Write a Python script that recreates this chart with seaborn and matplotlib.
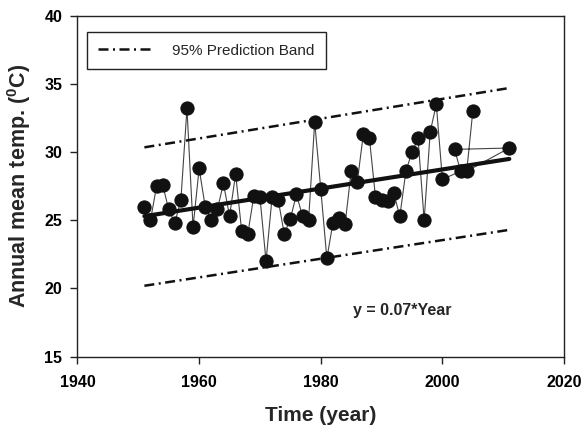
import seaborn as sns
import matplotlib.pyplot as plt

# annual mean temperature, in the order the points were joined
years = [1951, 1952, 1953, 1954, 1955, 1956, 1957, 1958, 1959, 1960,
         1961, 1962, 1963, 1964, 1965, 1966, 1967, 1968, 1969, 1970,
         1971, 1972, 1973, 1974, 1975, 1976, 1977, 1978, 1979, 1980,
         1981, 1982, 1983, 1984, 1985, 1986, 1987, 1988, 1989, 1990,
         1991, 1992, 1993, 1994, 1995, 1996, 1997, 1998, 1999, 2000,
         2003, 2002, 2011, 2004, 2005]
temps = [26.0, 25.0, 27.5, 27.6, 25.8, 24.8, 26.5, 33.2, 24.5, 28.8,
         26.0, 25.0, 25.8, 27.7, 25.3, 28.4, 24.2, 24.0, 26.8, 26.7,
         22.0, 26.7, 26.5, 24.0, 25.1, 26.9, 25.3, 25.0, 32.2, 27.3,
         22.2, 24.8, 25.2, 24.7, 28.6, 27.8, 31.3, 31.0, 26.7, 26.5,
         26.4, 27.0, 25.3, 28.6, 30.0, 31.0, 25.0, 31.5, 33.5, 28.0,
         28.6, 30.2, 30.3, 28.6, 33.0]

# regression line and 95% prediction band (end points)
fit_years = [1951, 2011]
fit_vals = [25.3, 29.5]
band_upper = [30.35, 34.7]
band_lower = [20.2, 24.3]

x_ticks = [1940, 1960, 1980, 2000, 2020]
y_ticks = [15, 20, 25, 30, 35, 40]

sns.set_style("ticks")
plt.rcParams['font.family'] = ['Liberation Sans', 'DejaVu Sans']
plt.rcParams['mathtext.fontset'] = 'custom'
plt.rcParams['mathtext.rm'] = 'Liberation Sans:bold'
plt.rcParams['mathtext.bf'] = 'Liberation Sans:bold'

fig = plt.figure(figsize=(5.84, 4.26), dpi=100)
ax = fig.add_axes([0.1327, 0.1627, 0.8331, 0.8004])

sns.lineplot(x=years, y=temps, sort=False, estimator=None, errorbar=None,
             color='#444444', lw=0.8, marker='o', markersize=9.5,
             markerfacecolor='#111111', markeredgecolor='#111111', ax=ax)
sns.lineplot(x=fit_years, y=fit_vals, color='#111111', lw=3, ax=ax)
band_style = (0, (4, 1.8, 0.8, 1.8))
sns.lineplot(x=fit_years, y=band_upper, color='#111111', lw=1.8,
             linestyle=band_style, ax=ax)
sns.lineplot(x=fit_years, y=band_lower, color='#111111', lw=1.8,
             linestyle=band_style, ax=ax)

band_line = ax.get_lines()[-1]
leg = ax.legend([band_line], ['95% Prediction Band'], loc='upper left',
                bbox_to_anchor=(0.0195, 0.952), borderaxespad=0,
                fontsize=11, handlelength=3.6, handletextpad=1.2,
                borderpad=0.75, fancybox=False, framealpha=1)
leg.get_frame().set_edgecolor('#222222')
leg.get_frame().set_linewidth(1.0)

ax.text(1993.4, 18.35, 'y = 0.07*Year', ha='center', va='center',
        fontsize=11.5, fontweight='bold')

ax.set_xlim(1940, 2020)
ax.set_ylim(15, 40)
ax.set_xticks(x_ticks)
ax.set_yticks(y_ticks)
ax.tick_params(direction='out', length=5, width=1, colors='#222222',
               labelsize=11.5, labelcolor='black')
ax.tick_params(axis='x', pad=8)
ax.tick_params(axis='y', pad=6)
for lab in ax.get_xticklabels() + ax.get_yticklabels():
    lab.set_fontweight('bold')
for sp in ax.spines.values():
    sp.set_visible(True)
    sp.set_color('#222222')
    sp.set_linewidth(1.0)

ax.set_xlabel('Time (year)', fontsize=15, fontweight='bold', labelpad=12)
ax.set_ylabel(r'Annual mean temp. ($^{0}$C)', fontsize=15.5, fontweight='bold',
              labelpad=8)

fig.savefig('out.png', dpi=100)
